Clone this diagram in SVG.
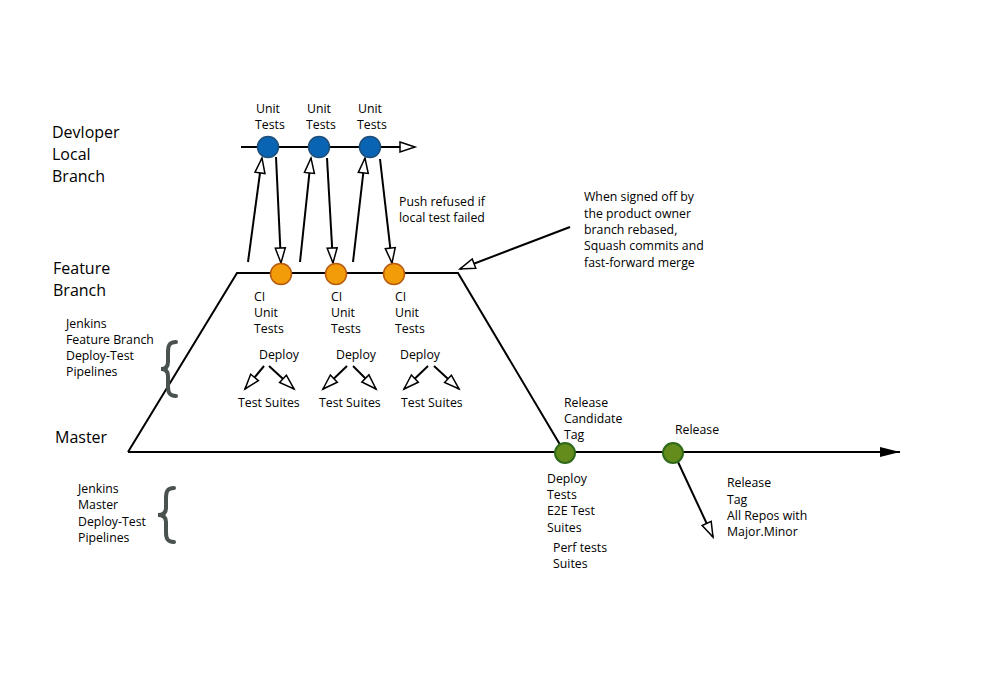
<svg xmlns="http://www.w3.org/2000/svg" width="1004" height="673" viewBox="0 0 1004 673">
<style>
text{font-family:"Open Sans","Liberation Sans",sans-serif;fill:#000}
.s{font-size:12.3px}
.l{font-size:16px}
.ln{stroke:#000;stroke-width:2;fill:none}
.blue{fill:#0A64B4;stroke:#1F4E79;stroke-width:1.5}
.orange{fill:#F39C0A;stroke:#B65A0E;stroke-width:1.5}
.green{fill:#638C1C;stroke:#2F6A1A;stroke-width:2}
.brace{stroke:#4A524D;stroke-width:4;fill:none;stroke-linecap:round}
</style>
<defs>
<marker id="open" markerUnits="userSpaceOnUse" markerWidth="18" markerHeight="12" refX="15" refY="5" orient="auto" overflow="visible">
<path d="M0,0 L15,5 L0,10 z" fill="#fff" stroke="#000" stroke-width="1.5"/>
</marker>
<marker id="filled" markerUnits="userSpaceOnUse" markerWidth="20" markerHeight="12" refX="20" refY="5" orient="auto" overflow="visible">
<path d="M0,0 L20,5 L0,10 z" fill="#000"/>
</marker>
</defs>
<rect width="1004" height="673" fill="#fff"/>
<g id="connectors">
<line class="ln" x1="241" y1="147" x2="415" y2="147" marker-end="url(#open)"/>
<polyline class="ln" points="128,452 237,273 458,273 565,453"/>
<line class="ln" x1="128" y1="452" x2="900" y2="452" marker-end="url(#filled)"/>
<line class="ln" x1="248" y1="262" x2="262" y2="158" marker-end="url(#open)"/>
<line class="ln" x1="276" y1="157" x2="281" y2="263" marker-end="url(#open)"/>
<line class="ln" x1="300" y1="262" x2="311" y2="158" marker-end="url(#open)"/>
<line class="ln" x1="327" y1="158" x2="333" y2="263" marker-end="url(#open)"/>
<line class="ln" x1="353" y1="262" x2="365" y2="158" marker-end="url(#open)"/>
<line class="ln" x1="380" y1="159" x2="392" y2="263" marker-end="url(#open)"/>
<line class="ln" x1="570" y1="227" x2="460" y2="269" marker-end="url(#open)"/>
<line class="ln" x1="678" y1="462" x2="713" y2="537" marker-end="url(#open)"/>
<line class="ln" x1="264" y1="366" x2="245" y2="389" marker-end="url(#open)"/>
<line class="ln" x1="269" y1="366" x2="294" y2="389" marker-end="url(#open)"/>
<line class="ln" x1="347" y1="366" x2="323" y2="389" marker-end="url(#open)"/>
<line class="ln" x1="353" y1="366" x2="376" y2="389" marker-end="url(#open)"/>
<line class="ln" x1="428" y1="366" x2="404" y2="389" marker-end="url(#open)"/>
<line class="ln" x1="434" y1="366" x2="459" y2="389" marker-end="url(#open)"/>
</g>
<g id="dev-commit-1"><circle class="blue" cx="268" cy="147" r="10.5"/><text class="s" x="256" y="113">Unit</text><text class="s" x="255" y="129">Tests</text></g>
<g id="dev-commit-2"><circle class="blue" cx="319" cy="147" r="10.5"/><text class="s" x="307" y="113">Unit</text><text class="s" x="306" y="129">Tests</text></g>
<g id="dev-commit-3"><circle class="blue" cx="370" cy="147" r="10.5"/><text class="s" x="358" y="113">Unit</text><text class="s" x="357" y="129">Tests</text></g>
<g id="feat-commit-1"><circle class="orange" cx="281" cy="274" r="10.5"/><text class="s" x="254" y="301">CI</text><text class="s" x="254" y="317">Unit</text><text class="s" x="254" y="333">Tests</text><text class="s" x="259" y="359">Deploy</text><text class="s" x="238" y="407">Test Suites</text></g>
<g id="feat-commit-2"><circle class="orange" cx="336" cy="274" r="10.5"/><text class="s" x="331" y="301">CI</text><text class="s" x="331" y="317">Unit</text><text class="s" x="331" y="333">Tests</text><text class="s" x="336" y="359">Deploy</text><text class="s" x="319" y="407">Test Suites</text></g>
<g id="feat-commit-3"><circle class="orange" cx="394" cy="274" r="10.5"/><text class="s" x="395" y="301">CI</text><text class="s" x="395" y="317">Unit</text><text class="s" x="395" y="333">Tests</text><text class="s" x="400" y="359">Deploy</text><text class="s" x="401" y="407">Test Suites</text></g>
<g id="rc-commit"><circle class="green" cx="565" cy="453" r="10"/>
<text class="s" x="564" y="407">Release</text><text class="s" x="564" y="423">Candidate</text><text class="s" x="564" y="439">Tag</text>
<text class="s" x="547" y="483">Deploy</text><text class="s" x="547" y="499">Tests</text><text class="s" x="547" y="515">E2E Test</text><text class="s" x="547" y="532">Suites</text>
<text class="s" x="553" y="552">Perf tests</text><text class="s" x="553" y="568">Suites</text></g>
<g id="release-commit"><circle class="green" cx="673" cy="453" r="10"/><text class="s" x="675" y="434">Release</text></g>
<g id="release-tag"><text class="s" x="727" y="487">Release</text><text class="s" x="727" y="504">Tag</text><text class="s" x="727" y="520">All Repos with</text><text class="s" x="727" y="536">Major.Minor</text></g>
<g id="label-dev"><text class="l" x="52" y="138">Devloper</text><text class="l" x="52" y="160">Local</text><text class="l" x="52" y="182">Branch</text></g>
<g id="label-feature"><text class="l" x="53" y="274">Feature</text><text class="l" x="53" y="296">Branch</text></g>
<g id="label-master"><text class="l" x="55" y="443">Master</text></g>
<g id="jenkins-feature"><text class="s" x="66" y="328">Jenkins</text><text class="s" x="66" y="344">Feature Branch</text><text class="s" x="66" y="360">Deploy-Test</text><text class="s" x="66" y="376">Pipelines</text>
<path class="brace" d="M176,342 C169,342 168,346 168,352 L168,362 C168,367 165,369 161,369 C165,369 168,371 168,376 L168,386 C168,392 169,396 176,396"/></g>
<g id="jenkins-master"><text class="s" x="78" y="493">Jenkins</text><text class="s" x="78" y="509">Master</text><text class="s" x="78" y="526">Deploy-Test</text><text class="s" x="78" y="542">Pipelines</text>
<path class="brace" d="M174,488 C167,488 166,492 166,498 L166,508 C166,513 163,515 158,515 C163,515 166,517 166,522 L166,532 C166,538 167,542 174,542"/></g>
<g id="note-push"><text class="s" x="399" y="206">Push refused if</text><text class="s" x="399" y="222">local test failed</text></g>
<g id="note-signoff"><text class="s" x="584" y="201">When signed off by</text><text class="s" x="584" y="218">the product owner</text><text class="s" x="584" y="234">branch rebased,</text><text class="s" x="584" y="250">Squash commits and</text><text class="s" x="584" y="267">fast-forward merge</text></g>
</svg>
